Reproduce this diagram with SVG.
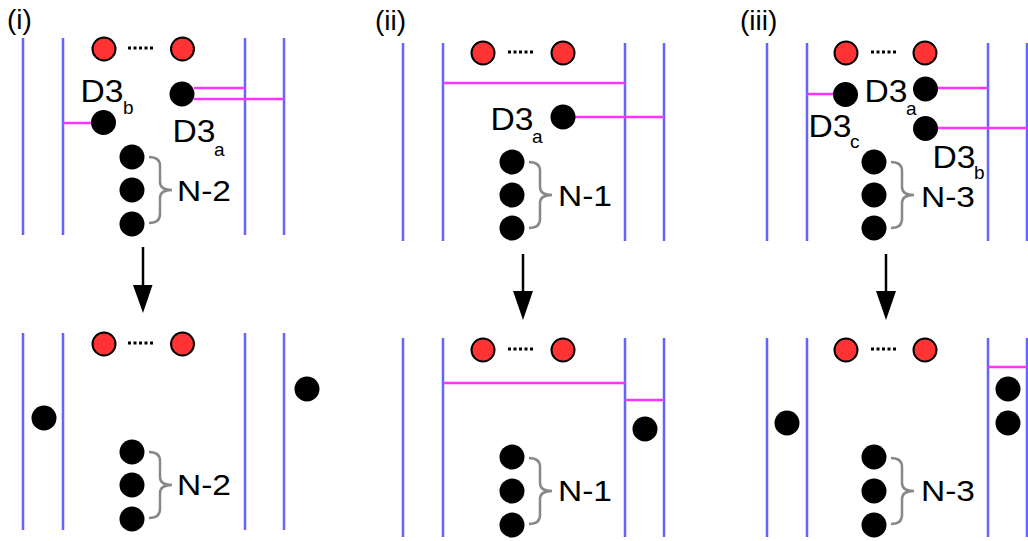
<svg xmlns="http://www.w3.org/2000/svg" width="1028" height="541" viewBox="0 0 1028 541">
<defs>
<style>
.wall{stroke:#6464ff;stroke-width:2.5;fill:none}
.mag{stroke:#ff33ff;stroke-width:2.5;fill:none}
.red{fill:#ff3333;stroke:#000;stroke-width:2}
.blk{fill:#000}
.dots{stroke:#000;stroke-width:3;stroke-dasharray:3 2.5;fill:none}
.brace{stroke:#888;stroke-width:2.5;fill:none}
.arr{stroke:#000;stroke-width:2.5;fill:none}
text{font-family:"Liberation Sans",Arial,sans-serif;fill:#000}
</style>
<g id="brace"><path class="brace" d="M-23,-33 Q-12,-33 -12,-24 L-12,-8 Q-12,0 0,0 Q-12,0 -12,8 L-12,24 Q-12,33 -23,33"/></g>
</defs>
<rect width="1028" height="541" fill="#fff"/>

<g id="labels" font-size="28">
<text x="7" y="29">(i)</text>
<text x="375" y="30">(ii)</text>
<text x="740" y="30">(iii)</text>
</g>

<!-- Panel i top -->
<g id="p1-top">
<path class="wall" d="M23,38V235M63,38V235M245,38V235M284,38V235"/>
<path class="mag" d="M194,88H245M194,99H284M63,123H92"/>
<circle class="red" cx="104" cy="49" r="11.5"/>
<circle class="red" cx="182.5" cy="49" r="11.5"/>
<line class="dots" x1="128" y1="48" x2="154" y2="48"/>
<circle class="blk" cx="182" cy="94" r="12.5"/>
<circle class="blk" cx="103.5" cy="122.5" r="12.5"/>
<circle class="blk" cx="132" cy="157" r="12.5"/>
<circle class="blk" cx="132" cy="190" r="12.5"/>
<circle class="blk" cx="132" cy="224" r="12.5"/>
<use href="#brace" x="172" y="190"/>
<text font-size="32" x="80.5" y="102" textLength="43" lengthAdjust="spacingAndGlyphs">D3</text>
<text font-size="19" x="123" y="114">b</text>
<text font-size="32" x="172.5" y="142" textLength="43" lengthAdjust="spacingAndGlyphs">D3</text>
<text font-size="19" x="214" y="156">a</text>
<text font-size="30" x="177" y="201" textLength="54" lengthAdjust="spacingAndGlyphs">N-2</text>
</g>

<!-- Panel i bottom -->
<g id="p1-bot">
<path class="wall" d="M23,333V530M63,333V530M245,333V530M284,333V530"/>
<circle class="red" cx="104" cy="344" r="11.5"/>
<circle class="red" cx="182.5" cy="344" r="11.5"/>
<line class="dots" x1="128" y1="343" x2="154" y2="343"/>
<circle class="blk" cx="44" cy="418" r="12.5"/>
<circle class="blk" cx="307" cy="389" r="12.5"/>
<circle class="blk" cx="132" cy="452" r="12.5"/>
<circle class="blk" cx="132" cy="485" r="12.5"/>
<circle class="blk" cx="132" cy="519" r="12.5"/>
<use href="#brace" x="172" y="485"/>
<text font-size="30" x="177" y="495" textLength="54" lengthAdjust="spacingAndGlyphs">N-2</text>
</g>

<!-- Panel ii top -->
<g id="p2-top">
<path class="wall" d="M403,43V241M443,43V241M625,43V241M664,43V241"/>
<path class="mag" d="M443,83H625M575,117H664"/>
<circle class="red" cx="483" cy="53" r="11.5"/>
<circle class="red" cx="563" cy="53" r="11.5"/>
<line class="dots" x1="508" y1="52" x2="534" y2="52"/>
<circle class="blk" cx="563" cy="117" r="12.5"/>
<circle class="blk" cx="512" cy="162" r="12.5"/>
<circle class="blk" cx="512" cy="195" r="12.5"/>
<circle class="blk" cx="512" cy="228" r="12.5"/>
<use href="#brace" x="552" y="195"/>
<text font-size="32" x="490.5" y="130" textLength="43" lengthAdjust="spacingAndGlyphs">D3</text>
<text font-size="19" x="532" y="143">a</text>
<text font-size="30" x="558" y="206" textLength="54" lengthAdjust="spacingAndGlyphs">N-1</text>
</g>

<!-- Panel ii bottom -->
<g id="p2-bot">
<path class="wall" d="M403,338V537M443,338V537M625,338V537M664,338V537"/>
<path class="mag" d="M443,383H625M625,400H664"/>
<circle class="red" cx="483" cy="350" r="11.5"/>
<circle class="red" cx="563" cy="350" r="11.5"/>
<line class="dots" x1="508" y1="349" x2="534" y2="349"/>
<circle class="blk" cx="645" cy="429" r="12.5"/>
<circle class="blk" cx="512" cy="457" r="12.5"/>
<circle class="blk" cx="512" cy="491" r="12.5"/>
<circle class="blk" cx="512" cy="525" r="12.5"/>
<use href="#brace" x="552" y="491"/>
<text font-size="30" x="558" y="501" textLength="54" lengthAdjust="spacingAndGlyphs">N-1</text>
</g>

<!-- Panel iii top -->
<g id="p3-top">
<path class="wall" d="M767,43V241M807,43V241M988,43V241M1027,43V241"/>
<path class="mag" d="M807,94H834M938,88H988M938,128H1027"/>
<circle class="red" cx="846" cy="53" r="11.5"/>
<circle class="red" cx="925" cy="53" r="11.5"/>
<line class="dots" x1="871" y1="52" x2="897" y2="52"/>
<circle class="blk" cx="845.5" cy="94.5" r="12.5"/>
<circle class="blk" cx="925.5" cy="89" r="12.5"/>
<circle class="blk" cx="925.5" cy="128.5" r="12.5"/>
<circle class="blk" cx="874" cy="162" r="12.5"/>
<circle class="blk" cx="874" cy="195" r="12.5"/>
<circle class="blk" cx="874" cy="228" r="12.5"/>
<use href="#brace" x="914" y="195"/>
<text font-size="32" x="864.5" y="102" textLength="43" lengthAdjust="spacingAndGlyphs">D3</text>
<text font-size="19" x="906" y="115">a</text>
<text font-size="32" x="808.5" y="137" textLength="43" lengthAdjust="spacingAndGlyphs">D3</text>
<text font-size="19" x="850" y="148">c</text>
<text font-size="32" x="932.5" y="168" textLength="43" lengthAdjust="spacingAndGlyphs">D3</text>
<text font-size="19" x="974" y="179">b</text>
<text font-size="30" x="921" y="207" textLength="54" lengthAdjust="spacingAndGlyphs">N-3</text>
</g>

<!-- Panel iii bottom -->
<g id="p3-bot">
<path class="wall" d="M767,338V537M807,338V537M988,338V537M1027,338V537"/>
<path class="mag" d="M988,367H1027"/>
<circle class="red" cx="846" cy="350" r="11.5"/>
<circle class="red" cx="925" cy="350" r="11.5"/>
<line class="dots" x1="871" y1="349" x2="897" y2="349"/>
<circle class="blk" cx="787" cy="423" r="12.5"/>
<circle class="blk" cx="1008" cy="389" r="12.5"/>
<circle class="blk" cx="1008" cy="423" r="12.5"/>
<circle class="blk" cx="874" cy="457" r="12.5"/>
<circle class="blk" cx="874" cy="491" r="12.5"/>
<circle class="blk" cx="874" cy="525" r="12.5"/>
<use href="#brace" x="914" y="491"/>
<text font-size="30" x="921" y="501" textLength="54" lengthAdjust="spacingAndGlyphs">N-3</text>
</g>

<g id="connectors">
<line class="arr" x1="143" y1="247" x2="143" y2="288"/>
<path d="M133,285 L152.5,285 L143,313 Z" fill="#000"/>
<line class="arr" x1="523" y1="254" x2="523" y2="294"/>
<path d="M513,291 L533,291 L523,320 Z" fill="#000"/>
<line class="arr" x1="886" y1="254" x2="886" y2="294"/>
<path d="M876,291 L896,291 L886,320 Z" fill="#000"/>
</g>
</svg>
